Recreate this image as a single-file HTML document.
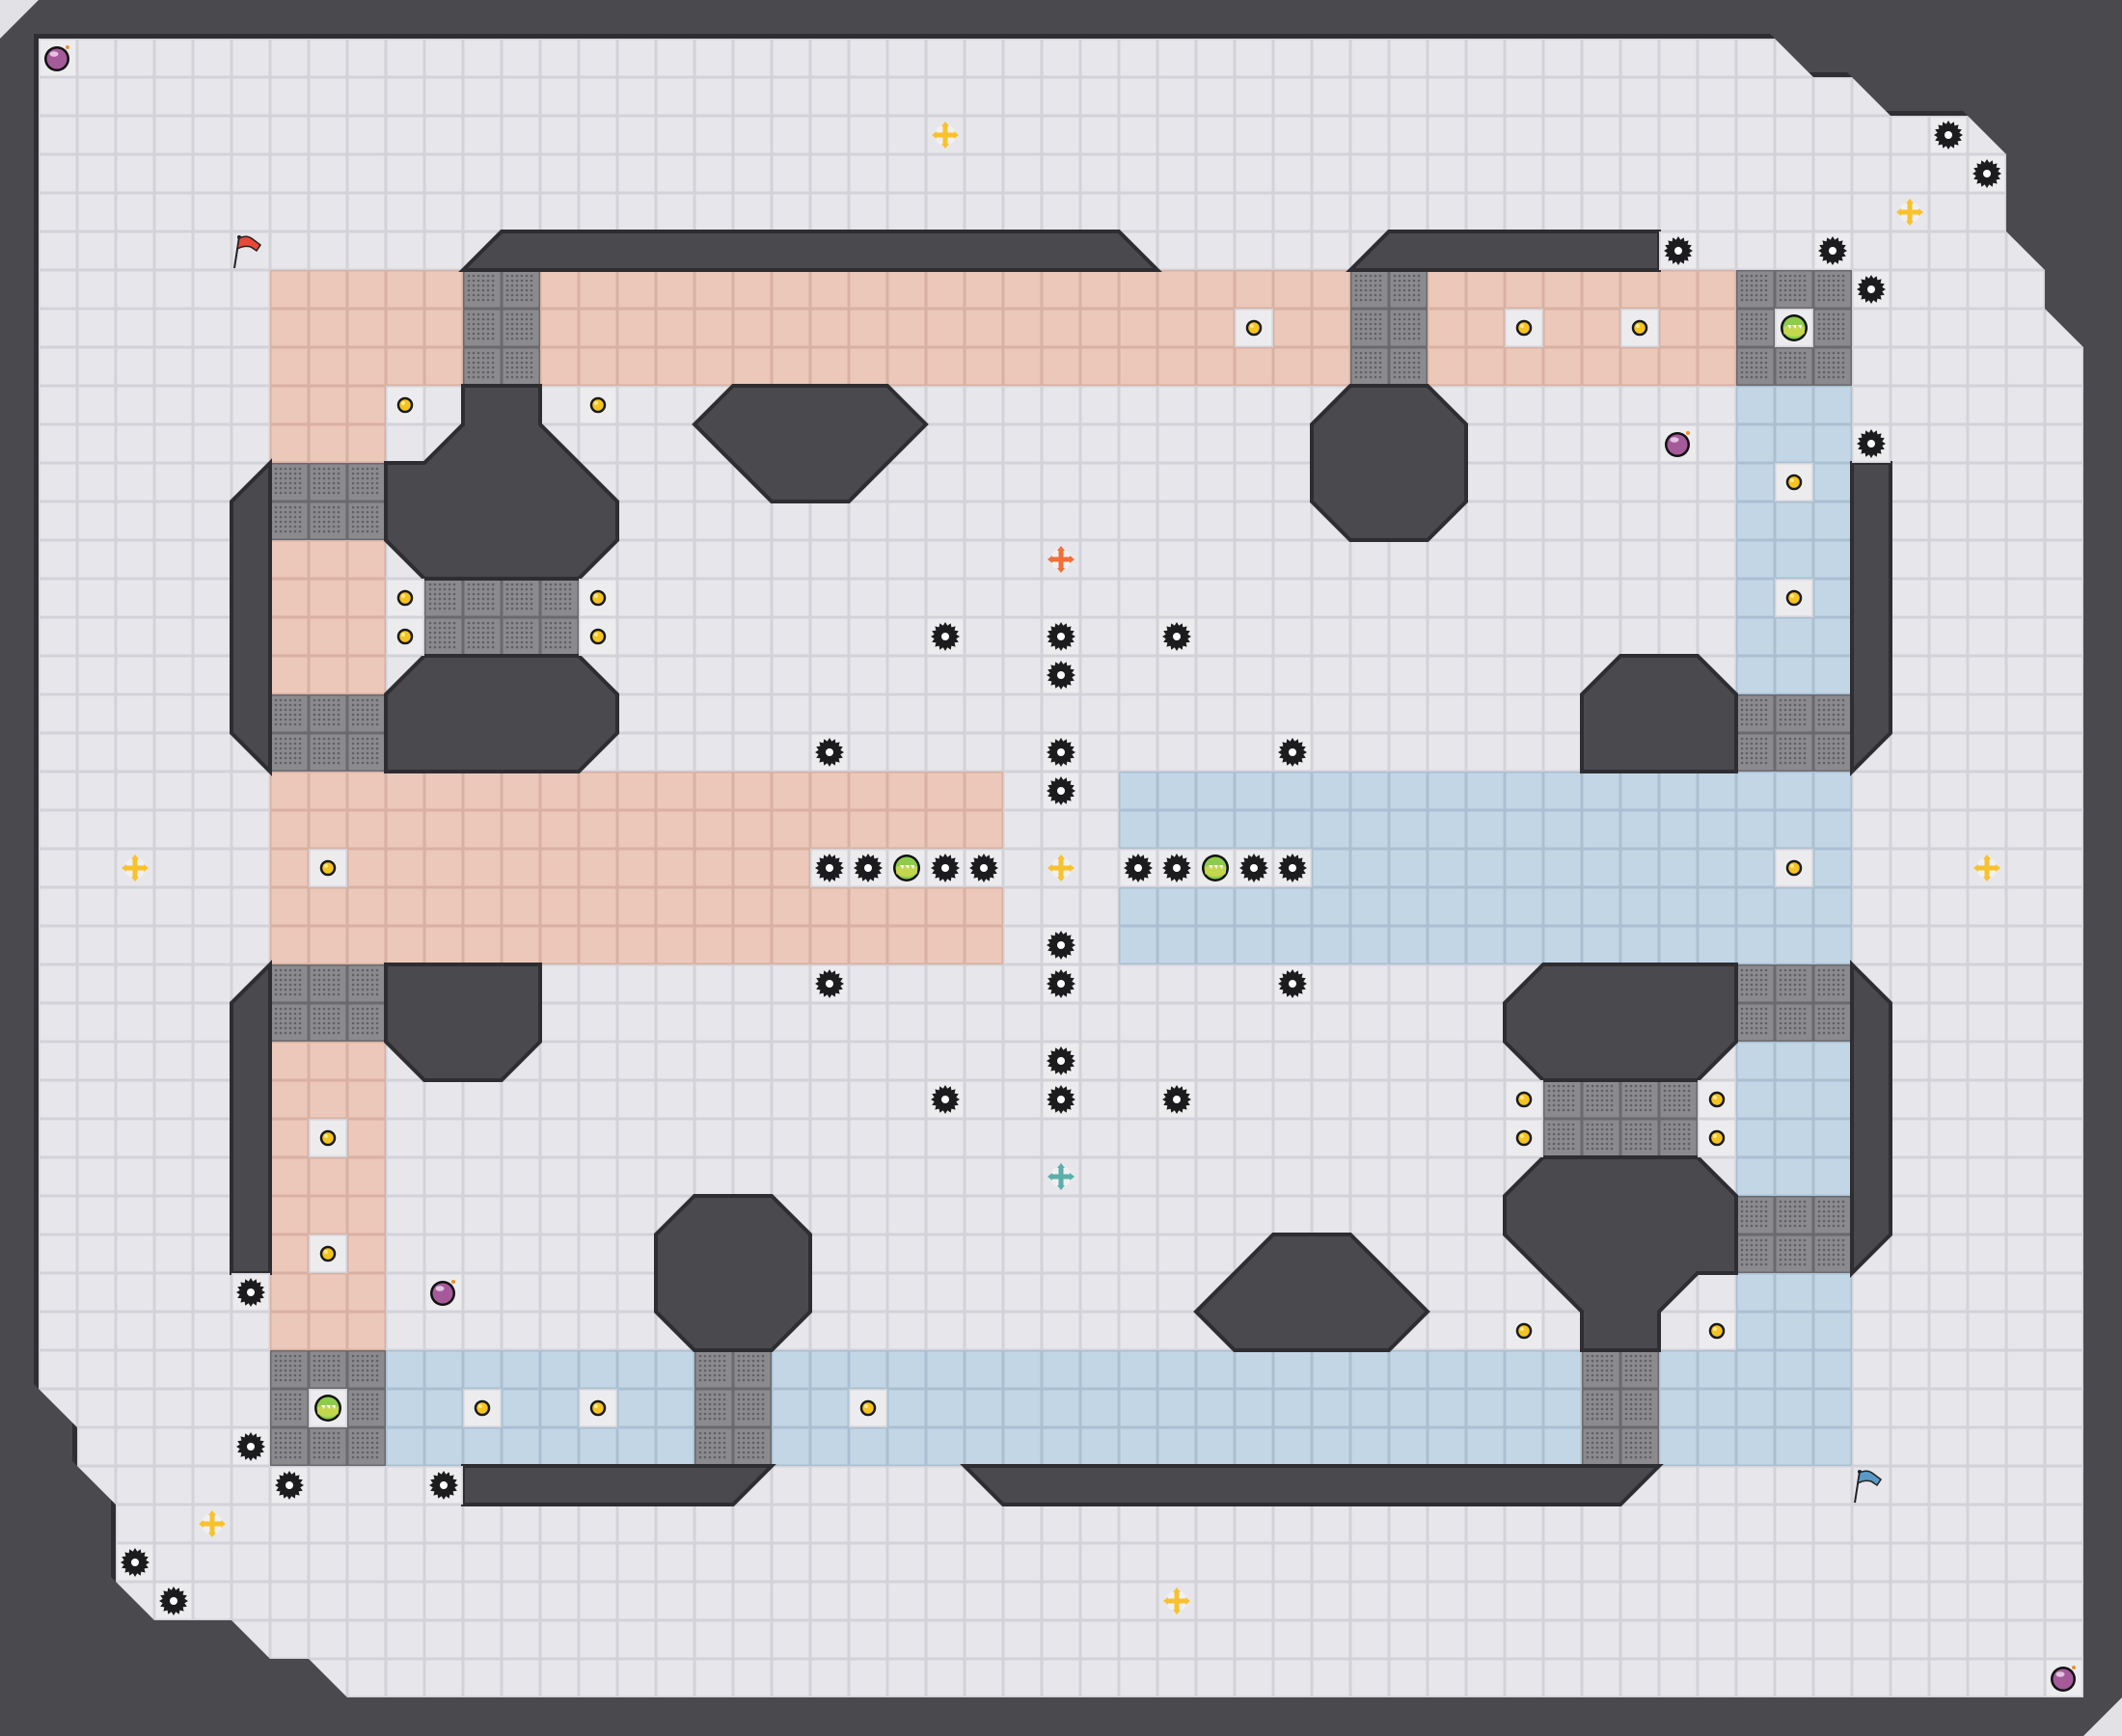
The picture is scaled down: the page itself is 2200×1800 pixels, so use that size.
<!DOCTYPE html>
<html><head><meta charset="utf-8"><style>html,body{margin:0;padding:0;background:#4a494e}svg{display:block}</style></head>
<body>
<svg width="2200" height="1800" viewBox="0 0 2200 1800" xmlns="http://www.w3.org/2000/svg">
<defs>
<pattern id="grid" width="40" height="40" patternUnits="userSpaceOnUse">
<rect width="40" height="40" fill="#d2d2d8"/><rect x="1.5" y="1.5" width="37" height="37" fill="#e7e7eb"/>
</pattern>
<pattern id="pink" width="40" height="40" patternUnits="userSpaceOnUse">
<rect width="40" height="40" fill="#d9b1a3"/><rect x="1.5" y="1.5" width="37" height="37" fill="#ecc8ba"/>
</pattern>
<pattern id="blue" width="40" height="40" patternUnits="userSpaceOnUse">
<rect width="40" height="40" fill="#aac0d2"/><rect x="1.5" y="1.5" width="37" height="37" fill="#c3d6e6"/>
</pattern>
<pattern id="gray" width="40" height="40" patternUnits="userSpaceOnUse">
<rect width="40" height="40" fill="#6a6a6e"/><rect x="1.5" y="1.5" width="37" height="37" fill="#8b8b8f"/>
<g fill="#606064">
<circle cx="6" cy="6" r="1.3"/><circle cx="11" cy="6" r="1.3"/><circle cx="16" cy="6" r="1.3"/><circle cx="21" cy="6" r="1.3"/><circle cx="26" cy="6" r="1.3"/><circle cx="31" cy="6" r="1.3"/>
<circle cx="6" cy="11" r="1.3"/><circle cx="11" cy="11" r="1.3"/><circle cx="16" cy="11" r="1.3"/><circle cx="21" cy="11" r="1.3"/><circle cx="26" cy="11" r="1.3"/><circle cx="31" cy="11" r="1.3"/>
<circle cx="6" cy="16" r="1.3"/><circle cx="11" cy="16" r="1.3"/><circle cx="16" cy="16" r="1.3"/><circle cx="21" cy="16" r="1.3"/><circle cx="26" cy="16" r="1.3"/><circle cx="31" cy="16" r="1.3"/>
<circle cx="6" cy="21" r="1.3"/><circle cx="11" cy="21" r="1.3"/><circle cx="16" cy="21" r="1.3"/><circle cx="21" cy="21" r="1.3"/><circle cx="26" cy="21" r="1.3"/><circle cx="31" cy="21" r="1.3"/>
<circle cx="6" cy="26" r="1.3"/><circle cx="11" cy="26" r="1.3"/><circle cx="16" cy="26" r="1.3"/><circle cx="21" cy="26" r="1.3"/><circle cx="26" cy="26" r="1.3"/><circle cx="31" cy="26" r="1.3"/>
<circle cx="6" cy="31" r="1.3"/><circle cx="11" cy="31" r="1.3"/><circle cx="16" cy="31" r="1.3"/><circle cx="21" cy="31" r="1.3"/><circle cx="26" cy="31" r="1.3"/><circle cx="31" cy="31" r="1.3"/>
</g>
</pattern>
<g id="cell"><rect x="0" y="0" width="40" height="40" fill="#d2d2d8"/><rect x="1.5" y="1.5" width="37" height="37" fill="#ececef"/></g>
<g id="coin"><use href="#cell"/><circle cx="20" cy="20" r="7" fill="#f5c420" stroke="#1a1a1a" stroke-width="2.5"/><circle cx="18" cy="18" r="2" fill="#fde88a"/></g>
<g id="gear"><use href="#cell"/><polygon fill="#1c1c1e" points="20,5 22.3,8.7 25.7,6.2 26.4,10.4 30.6,9.4 29.6,13.6 33.8,14.3 31.3,17.7 35,20 31.3,22.3 33.8,25.7 29.6,26.4 30.6,30.6 26.4,29.6 25.7,33.8 22.3,31.3 20,35 17.7,31.3 14.3,33.8 13.6,29.6 9.4,30.6 10.4,26.4 6.2,25.7 8.7,22.3 5,20 8.7,17.7 6.2,14.3 10.4,13.6 9.4,9.4 13.6,10.4 14.3,6.2 17.7,8.7"/><circle cx="20" cy="20" r="4" fill="#fff"/></g>
<g id="orb"><use href="#cell"/><circle cx="20" cy="20" r="14" fill="#111"/><circle cx="20" cy="20" r="11.5" fill="#8ccc4a"/><path d="M9 19 Q20 15 31 19 L31 26 Q20 32 9 26Z" fill="#d8dc50" opacity=".7"/><path d="M13 17 l3 4 l1-4z M18.5 17 l3 4 l1-4z M24 17 l3 4 l1-4z" fill="#fff"/></g>
<g id="plus"><circle cx="20" cy="20" r="11" fill="#fff" opacity=".4"/><path d="M17.5 11 h5 v6.5 h6.5 v5 h-6.5 v6.5 h-5 v-6.5 h-6.5 v-5 h6.5z"/><path d="M20 6 l4 5 h-8z M20 34 l4 -5 h-8z M6 20 l5 4 v-8z M34 20 l-5 4 v-8z"/></g>
<g id="bomb"><use href="#cell"/><circle cx="19" cy="21" r="13" fill="#111"/><circle cx="19" cy="21" r="10.5" fill="#a55a9a"/><ellipse cx="16" cy="16" rx="4.5" ry="2.8" fill="#e4c2e0"/><circle cx="30" cy="9" r="2" fill="#f0902a"/></g>
</defs>
<rect width="2200" height="1800" fill="#4a494e"/>
<polygon points="0,0 40,0 0,40" fill="#e2e2e6"/>
<polygon points="2200,1760 2200,1800 2160,1800" fill="#e2e2e6"/>
<polygon transform="translate(-5,-5)" fill="#2f2f33" points="40,40 1840,40 1880,80 1920,80 1960,120 2040,120 2080,160 2080,240 2120,280 2120,320 2160,360 2160,1760 360,1760 320,1720 280,1720 240,1680 160,1680 120,1640 120,1560 80,1520 80,1480 40,1440"/>
<polygon fill="url(#grid)" points="40,40 1840,40 1880,80 1920,80 1960,120 2040,120 2080,160 2080,240 2120,280 2120,320 2160,360 2160,1760 360,1760 320,1720 280,1720 240,1680 160,1680 120,1640 120,1560 80,1520 80,1480 40,1440"/>
<g fill="url(#pink)">
<rect x="280" y="280" width="1520" height="120"/>
<rect x="280" y="400" width="120" height="80"/>
<rect x="280" y="560" width="120" height="160"/>
<rect x="280" y="800" width="760" height="200"/>
<rect x="280" y="1080" width="120" height="320"/>
</g>
<g fill="url(#blue)">
<rect x="1800" y="400" width="120" height="320"/>
<rect x="1160" y="800" width="760" height="200"/>
<rect x="1800" y="1080" width="120" height="160"/>
<rect x="1800" y="1320" width="120" height="200"/>
<rect x="400" y="1400" width="1520" height="120"/>
</g>
<g fill="url(#gray)">
<rect x="480" y="280" width="80" height="120"/>
<rect x="1400" y="280" width="80" height="120"/>
<rect x="1800" y="280" width="120" height="120"/>
<rect x="280" y="480" width="120" height="80"/>
<rect x="280" y="720" width="120" height="80"/>
<rect x="440" y="600" width="160" height="80"/>
<rect x="1800" y="720" width="120" height="80"/>
<rect x="280" y="1000" width="120" height="80"/>
<rect x="1800" y="1000" width="120" height="80"/>
<rect x="1600" y="1120" width="160" height="80"/>
<rect x="1800" y="1240" width="120" height="80"/>
<rect x="280" y="1400" width="120" height="120"/>
<rect x="720" y="1400" width="80" height="120"/>
<rect x="1640" y="1400" width="80" height="120"/>
</g>
<g transform="scale(40)" fill="#4a494e" stroke="#2e2e32" stroke-width="0.1" stroke-linejoin="miter">
<polygon points="12,7 13,6 29,6 30,7"/>
<polygon points="35,7 36,6 43,6 43,7"/>
<polygon points="12,10 14,10 14,11 16,13 16,14 15,15 11,15 10,14 10,12 11,12 12,11"/>
<polygon points="11,17 15,17 16,18 16,19 15,20 10,20 10,18"/>
<polygon points="7,12 6,13 6,19 7,20"/>
<polygon points="18,11 19,10 23,10 24,11 22,13 20,13"/>
<polygon points="34,11 35,10 37,10 38,11 38,13 37,14 35,14 34,13"/>
<polygon points="41,18 42,17 44,17 45,18 45,20 41,20"/>
<polygon points="48,12 49,12 49,19 48,20"/>
<polygon points="10,25 14,25 14,27 13,28 11,28 10,27"/>
<polygon points="7,25 6,26 6,33 7,33"/>
<polygon points="40,25 45,25 45,27 44,28 40,28 39,27 39,26"/>
<polygon points="40,30 44,30 45,31 45,33 44,33 43,34 43,35 41,35 41,34 39,32 39,31"/>
<polygon points="48,25 49,26 49,32 48,33"/>
<polygon points="18,31 20,31 21,32 21,34 20,35 18,35 17,34 17,32"/>
<polygon points="32,33 33,32 35,32 37,34 36,35 32,35 31,34"/>
<polygon points="12,38 20,38 19,39 12,39"/>
<polygon points="25,38 43,38 42,39 26,39"/>
</g>
<!-- coins -->
<use href="#coin" x="400" y="400"/><use href="#coin" x="600" y="400"/>
<use href="#coin" x="1280" y="320"/><use href="#coin" x="1560" y="320"/><use href="#coin" x="1680" y="320"/>
<use href="#coin" x="400" y="600"/><use href="#coin" x="400" y="640"/><use href="#coin" x="600" y="600"/><use href="#coin" x="600" y="640"/>
<use href="#coin" x="1840" y="480"/><use href="#coin" x="1840" y="600"/>
<use href="#coin" x="320" y="880"/><use href="#coin" x="1840" y="880"/>
<use href="#coin" x="320" y="1160"/><use href="#coin" x="320" y="1280"/>
<use href="#coin" x="1560" y="1120"/><use href="#coin" x="1560" y="1160"/><use href="#coin" x="1760" y="1120"/><use href="#coin" x="1760" y="1160"/>
<use href="#coin" x="1560" y="1360"/><use href="#coin" x="1760" y="1360"/>
<use href="#coin" x="480" y="1440"/><use href="#coin" x="600" y="1440"/><use href="#coin" x="880" y="1440"/>
<!-- gears -->
<use href="#gear" x="2000" y="120"/><use href="#gear" x="2040" y="160"/><use href="#gear" x="1720" y="240"/><use href="#gear" x="1880" y="240"/><use href="#gear" x="1920" y="280"/><use href="#gear" x="1920" y="440"/>
<use href="#gear" x="960" y="640"/><use href="#gear" x="1080" y="640"/><use href="#gear" x="1200" y="640"/><use href="#gear" x="1080" y="680"/>
<use href="#gear" x="840" y="760"/><use href="#gear" x="1080" y="760"/><use href="#gear" x="1320" y="760"/><use href="#gear" x="1080" y="800"/>
<use href="#gear" x="840" y="880"/><use href="#gear" x="880" y="880"/><use href="#gear" x="960" y="880"/><use href="#gear" x="1000" y="880"/>
<use href="#gear" x="1160" y="880"/><use href="#gear" x="1200" y="880"/><use href="#gear" x="1280" y="880"/><use href="#gear" x="1320" y="880"/>
<use href="#gear" x="1080" y="960"/><use href="#gear" x="840" y="1000"/><use href="#gear" x="1080" y="1000"/><use href="#gear" x="1320" y="1000"/>
<use href="#gear" x="1080" y="1080"/><use href="#gear" x="960" y="1120"/><use href="#gear" x="1080" y="1120"/><use href="#gear" x="1200" y="1120"/>
<use href="#gear" x="240" y="1320"/><use href="#gear" x="240" y="1480"/><use href="#gear" x="280" y="1520"/><use href="#gear" x="440" y="1520"/>
<use href="#gear" x="120" y="1600"/><use href="#gear" x="160" y="1640"/>
<!-- orbs -->
<use href="#orb" x="1840" y="320"/><use href="#orb" x="920" y="880"/><use href="#orb" x="1240" y="880"/><use href="#orb" x="320" y="1440"/>
<!-- plus -->
<g fill="#f7c22e">
<use href="#plus" x="960" y="120"/><use href="#plus" x="1960" y="200"/><use href="#plus" x="120" y="880"/><use href="#plus" x="1080" y="880"/>
<use href="#plus" x="2040" y="880"/><use href="#plus" x="200" y="1560"/><use href="#plus" x="1200" y="1640"/>
</g>
<use href="#plus" x="1080" y="560" fill="#f07038"/>
<use href="#plus" x="1080" y="1200" fill="#5ab0a8"/>
<!-- bombs -->
<use href="#bomb" x="40" y="40"/><use href="#bomb" x="1720" y="440"/><use href="#bomb" x="440" y="1320"/><use href="#bomb" x="2120" y="1720"/>
<!-- flags -->
<g transform="translate(240,240)">
<line x1="3" y1="38" x2="8" y2="6" stroke="#222" stroke-width="2"/><circle cx="8" cy="6" r="2" fill="#222"/>
<path d="M8 7 Q16 3 22 8 L30 14 L26 20 L20 16 Q13 14 6 18Z" fill="#e84838" stroke="#222" stroke-width="1.5"/>
</g>
<g transform="translate(1920,1520)">
<line x1="3" y1="38" x2="8" y2="6" stroke="#222" stroke-width="2"/><circle cx="8" cy="6" r="2" fill="#222"/>
<path d="M8 7 Q16 3 22 8 L30 14 L26 20 L20 16 Q13 14 6 18Z" fill="#5a9ac8" stroke="#222" stroke-width="1.5"/>
</g>
</svg>
</body></html>
